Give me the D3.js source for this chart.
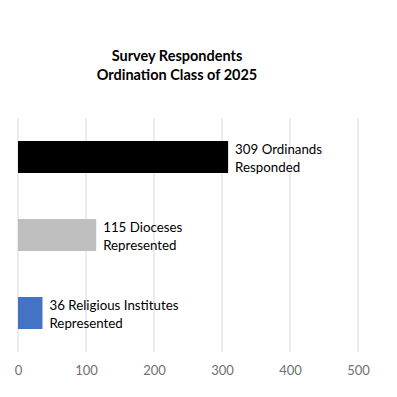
<!DOCTYPE html>
<html>
<head>
    <script src="https://d3js.org/d3.v7.min.js"></script>
    <style>
        body { margin: 0; background: #fff; }
        text { font-family: Lato, "Open Sans", sans-serif; }
    </style>
</head>
<body>
    <div id="chart"></div>
    <script>
        // values
        const categories = ["Ordinands", "Dioceses", "Religious Institutes"];
        const counts = [309, 115, 36];
        const labelLines = [
            ["309 Ordinands", "Responded"],
            ["115 Dioceses", "Represented"],
            ["36 Religious Institutes", "Represented"]
        ];
        const barColors = ["#000000", "#bfbfbf", "#4472c4"];
        const xTicks = [0, 100, 200, 300, 400, 500];
        const titleLines = ["Survey Respondents", "Ordination Class of 2025"];

        const width = 397;
        const height = 397;
        const margin = { top: 118, right: 39, bottom: 45, left: 18 };
        const innerW = width - margin.left - margin.right;
        const innerH = height - margin.top - margin.bottom;

        const svg = d3.select("#chart")
            .append("svg")
            .attr("width", width)
            .attr("height", height);

        // title
        svg.append("text")
            .attr("x", 177)
            .attr("y", 61)
            .attr("text-anchor", "middle")
            .style("font-weight", "bold")
            .style("font-size", "14.5px")
            .attr("fill", "#000")
            .selectAll("tspan")
            .data(titleLines)
            .join("tspan")
            .attr("x", 177)
            .attr("dy", (d, i) => i === 0 ? 0 : 19)
            .text(d => d);

        const g = svg.append("g")
            .attr("transform", `translate(${margin.left}, ${margin.top})`);

        const xScale = d3.scaleLinear()
            .domain([0, 500])
            .range([0, innerW]);

        const yScale = d3.scaleBand()
            .domain(categories)
            .range([0, innerH])
            .paddingInner(0.59)
            .paddingOuter(0.295);

        // gridlines
        g.selectAll(".grid")
            .data(xTicks)
            .join("line")
            .attr("class", "grid")
            .attr("x1", d => xScale(d))
            .attr("x2", d => xScale(d))
            .attr("y1", 0)
            .attr("y2", innerH)
            .attr("stroke", "#d9d9d9")
            .attr("stroke-width", 1);

        // x axis labels
        const xAxis = g.append("g")
            .attr("transform", `translate(0, ${innerH})`)
            .call(d3.axisBottom(xScale).tickValues(xTicks).tickSize(0).tickPadding(14));
        xAxis.select(".domain").remove();
        xAxis.selectAll("text")
            .style("font-size", "13px")
            .style("font-family", "Lato, 'Open Sans', sans-serif")
            .attr("fill", "#707070");

        // bars
        g.selectAll(".bar")
            .data(categories)
            .join("rect")
            .attr("class", "bar")
            .attr("x", xScale(0))
            .attr("y", d => yScale(d))
            .attr("width", (d, i) => xScale(counts[i]) - xScale(0))
            .attr("height", yScale.bandwidth())
            .attr("fill", (d, i) => barColors[i]);

        // data labels
        g.selectAll(".label")
            .data(categories)
            .join("text")
            .attr("class", "label")
            .style("font-size", "13.3px")
            .attr("fill", "#000")
            .each(function (d, i) {
                const cy = yScale(d) + yScale.bandwidth() / 2;
                d3.select(this).selectAll("tspan")
                    .data(labelLines[i])
                    .join("tspan")
                    .attr("x", xScale(counts[i]) + 7)
                    .attr("y", (t, j) => cy - 3.5 + j * 18)
                    .text(t => t);
            });
    </script>
</body>
</html>
